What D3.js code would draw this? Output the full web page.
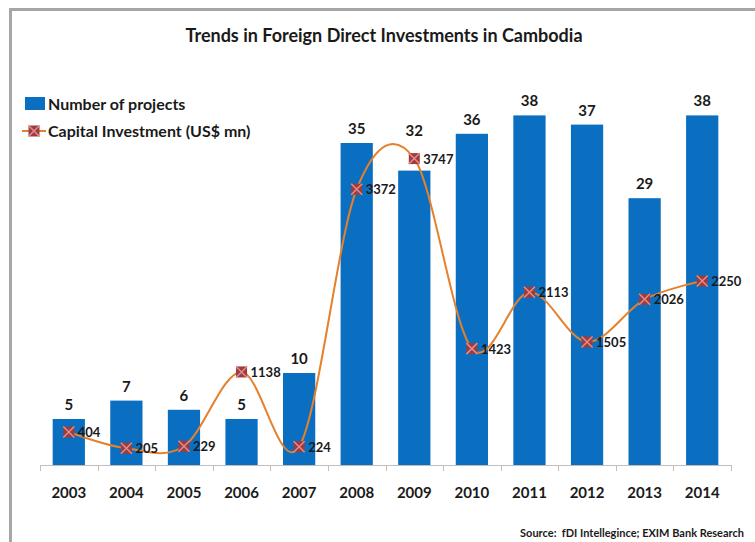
<!DOCTYPE html>
<html>
<head>
<meta charset="utf-8">
<script src="https://cdn.jsdelivr.net/npm/d3@7"></script>
<style>
  body { margin: 0; background: #fff; }
  svg { display: block; font-family: Lato, "Open Sans", sans-serif; }
</style>
</head>
<body>
<div id="viz"></div>
<script>

// chart data
var years = ["2003", "2004", "2005", "2006", "2007", "2008", "2009", "2010", "2011", "2012", "2013", "2014"];
var projects = [5, 7, 6, 5, 10, 35, 32, 36, 38, 37, 29, 38];
var capital = [404, 205, 229, 1138, 224, 3372, 3747, 1423, 2113, 1505, 2026, 2250];
var seriesNames = ["Number of projects", "Capital Investment (US$ mn)"];

var width = 755, height = 542;
var barColor = "#0b6fc1", lineColor = "#e5802c";
var markerFill = "#9a3d3f", markerCross = "#e58a8a";

var svg = d3.select("#viz")
	.append("svg")
	.attr("width", width)
	.attr("height", height);

// grey frame (top and left edges visible)
svg.append("path")
	.attr("d", "M10.5,542 V9.5 H755")
	.attr("fill", "none")
	.attr("stroke", "#a6a6a6")
	.attr("stroke-width", 3);

svg.append("text")
	.attr("x", 384)
	.attr("y", 42)
	.attr("text-anchor", "middle")
	.attr("font-size", 18)
	.attr("font-weight", 700)
	.attr("fill", "#1a1a1a")
	.text("Trends in Foreign Direct Investments in Cambodia");

var x = d3.scaleBand()
	.domain(years)
	.range([40, 731])
	.paddingInner(0.44)
	.paddingOuter(0.22);

var y = d3.scaleLinear().domain([0, 40]).range([465, 97]);
var y2 = d3.scaleLinear().domain([0, 4500]).range([465, 97]);

// bars
svg.append("g").selectAll("rect")
	.data(projects)
	.join("rect")
	.attr("x", function(d, i){ return x(years[i]); })
	.attr("y", function(d){ return y(d); })
	.attr("width", x.bandwidth())
	.attr("height", function(d){ return y(0) - y(d); })
	.attr("fill", barColor);

// bar labels sit above the bar, or above the line marker when it is in the way
function barLabelY(d, i){
	var top = y(d) - 9;
	var my = y2(capital[i]);
	if (my < y(d) + 4 && my > top - 24) return my - 23;
	return top;
}

svg.append("g").selectAll("text")
	.data(projects)
	.join("text")
	.attr("x", function(d, i){ return x(years[i]) + x.bandwidth() / 2; })
	.attr("y", barLabelY)
	.attr("text-anchor", "middle")
	.attr("font-size", 15)
	.attr("font-weight", 700)
	.attr("fill", "#1a1a1a")
	.text(function(d){ return d; });

// category axis
var step = x.step();
var axis = svg.append("g").attr("stroke", "#bfbfbf").attr("stroke-width", 1);
axis.append("line")
	.attr("x1", 40).attr("x2", 731)
	.attr("y1", 465.5).attr("y2", 465.5);
axis.selectAll("line.tick")
	.data(d3.range(years.length + 1))
	.join("line")
	.attr("class", "tick")
	.attr("x1", function(i){ return Math.round(40 + i * step) + 0.5; })
	.attr("x2", function(i){ return Math.round(40 + i * step) + 0.5; })
	.attr("y1", 465).attr("y2", 471);

svg.append("g").selectAll("text")
	.data(years)
	.join("text")
	.attr("x", function(d){ return x(d) + x.bandwidth() / 2; })
	.attr("y", 498)
	.attr("text-anchor", "middle")
	.attr("font-size", 15)
	.attr("font-weight", 700)
	.attr("fill", "#1a1a1a")
	.text(function(d){ return d; });

// capital investment line
var cx = function(d, i){ return x(years[i]) + x.bandwidth() / 2; };
var line = d3.line()
	.x(cx)
	.y(function(d){ return y2(d); })
	.curve(d3.curveCatmullRom.alpha(0));

svg.append("path")
	.datum(capital)
	.attr("d", line)
	.attr("fill", "none")
	.attr("stroke", lineColor)
	.attr("stroke-width", 2);

function drawMarker(g, px, py){
	var s = 5.5;
	g.append("rect")
		.attr("x", px - s).attr("y", py - s)
		.attr("width", 2 * s).attr("height", 2 * s)
		.attr("fill", markerFill);
	g.append("path")
		.attr("d", "M" + (px - s) + "," + (py - s) + "L" + (px + s) + "," + (py + s) +
			"M" + (px + s) + "," + (py - s) + "L" + (px - s) + "," + (py + s))
		.attr("stroke", markerCross)
		.attr("stroke-width", 1.5);
}

var markers = svg.append("g");
capital.forEach(function(d, i){
	drawMarker(markers, cx(d, i), y2(d));
});

svg.append("g").selectAll("text")
	.data(capital)
	.join("text")
	.attr("x", function(d, i){ return cx(d, i) + 9; })
	.attr("y", function(d){ return y2(d) + 5; })
	.attr("font-size", 13)
	.attr("font-weight", 700)
	.attr("fill", "#1a1a1a")
	.text(function(d){ return d; });

// legend
var legend = svg.append("g");
legend.append("rect")
	.attr("x", 25).attr("y", 97)
	.attr("width", 20).attr("height", 13)
	.attr("fill", barColor);
legend.append("text")
	.attr("x", 48).attr("y", 110)
	.attr("font-size", 16)
	.attr("font-weight", 700)
	.attr("fill", "#1a1a1a")
	.text(seriesNames[0]);
legend.append("line")
	.attr("x1", 22).attr("x2", 46)
	.attr("y1", 131).attr("y2", 131)
	.attr("stroke", lineColor)
	.attr("stroke-width", 2);
drawMarker(legend, 34, 131);
legend.append("text")
	.attr("x", 48).attr("y", 137)
	.attr("font-size", 16)
	.attr("font-weight", 700)
	.attr("fill", "#1a1a1a")
	.text(seriesNames[1]);

// source note
svg.append("text")
	.attr("x", 744)
	.attr("y", 537)
	.attr("text-anchor", "end")
	.attr("font-size", 11)
	.attr("font-weight", 700)
	.attr("fill", "#1a1a1a")
	.style("white-space", "pre")
	.text("Source:  fDI Intellegince; EXIM Bank Research");

</script>
</body>
</html>
